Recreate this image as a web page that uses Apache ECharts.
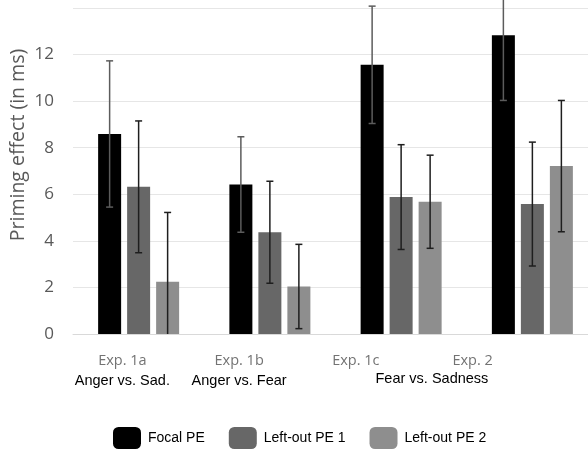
<!DOCTYPE html>
<html><head><meta charset="utf-8">
<script src="https://cdn.jsdelivr.net/npm/echarts@6/dist/echarts.min.js"></script>
<style>html,body{margin:0;padding:0;background:#fff}#c{width:588px;height:452px}</style>
</head><body><div id="c"></div>
<script>
const expLabels = ['Exp. 1a', 'Exp. 1b', 'Exp. 1c', 'Exp. 2'];
const contrastLabels = ['Anger vs. Sad.', 'Anger vs. Fear', '', ''];
const sharedContrast = 'Fear vs. Sadness';
const yTitle = 'Priming effect (in ms)';
const seriesNames = ['Focal PE', 'Left-out PE 1', 'Left-out PE 2'];
const focal = [8.59, 6.42, 11.56, 12.83];
const focalErr = [3.14, 2.05, 2.52, 2.80];
const left1 = [6.32, 4.37, 5.88, 5.58];
const left1Err = [2.83, 2.19, 2.25, 2.66];
const left2 = [2.24, 2.04, 5.68, 7.21];
const left2Err = [2.98, 1.81, 2.00, 2.82];

const BAR_W = 23, BAR_GAP = 6;
const colors = ['#000000', '#676767', '#8e8e8e'];
const errColors = ['#5c5c5c', '#1e1e1e', '#1e1e1e'];
const means = [focal, left1, left2];
const errs = [focalErr, left1Err, left2Err];

const chart = echarts.init(document.getElementById('c'));

function errSeries(si) {
  return {
    type: 'custom', xAxisIndex: 0, yAxisIndex: 0, clip: false, z: 10, silent: true,
    data: means[si].map((m, i) => [i, m - errs[si][i], m + errs[si][i]]),
    renderItem: function (params, api) {
      const x = api.coord([api.value(0), 0])[0] + (si - 1) * (BAR_W + BAR_GAP);
      const lo = api.value(1), hi = api.value(2);
      const yLo = api.coord([0, Math.max(lo, 0)])[1];
      const yHi = api.coord([0, hi])[1];
      const st = { stroke: errColors[si], lineWidth: 1.5 };
      const ch = [
        { type: 'line', shape: { x1: x, y1: yLo, x2: x, y2: yHi }, style: st },
        { type: 'line', shape: { x1: x - 3.5, y1: yHi, x2: x + 3.5, y2: yHi }, style: st }
      ];
      if (lo >= 0) ch.push({ type: 'line', shape: { x1: x - 3.5, y1: yLo, x2: x + 3.5, y2: yLo }, style: st });
      return { type: 'group', children: ch };
    }
  };
}

const option = {
  animation: false,
  backgroundColor: '#ffffff',
  grid: [
    { left: 73, width: 525, top: 8, bottom: 118, containLabel: false, outerBoundsMode: 'none' },
    { left: 64, width: 467, top: 8, bottom: 118, containLabel: false, outerBoundsMode: 'none' }
  ],
  xAxis: [
    { type: 'category', gridIndex: 0, data: expLabels,
      axisLine: { show: true, lineStyle: { color: '#d9d9d9', width: 1 } },
      axisTick: { show: false }, axisLabel: { show: false }, splitLine: { show: false } },
    { type: 'category', gridIndex: 1, data: expLabels.map((e, i) => e + '\n' + contrastLabels[i]),
      axisLine: { show: false }, axisTick: { show: false }, splitLine: { show: false },
      axisLabel: { margin: 17, interval: 0,
        formatter: function (v) {
          const p = v.split('\n');
          return '{a|' + p[0] + '}\n{b|' + (p[1] || ' ') + '}';
        },
        rich: {
          a: { fontFamily: 'Open Sans', fontSize: 14.5, color: '#737373', lineHeight: 20 },
          b: { fontFamily: 'Liberation Sans', fontSize: 14.5, color: '#000', lineHeight: 20 }
        } } }
  ],
  yAxis: [
    { type: 'value', gridIndex: 0, min: 0, max: 14, interval: 2,
      axisLine: { show: false }, axisTick: { show: false },
      axisLabel: { fontFamily: 'Open Sans', fontSize: 17, color: '#595959', margin: 19, showMaxLabel: false },
      splitLine: { lineStyle: { color: '#e6e6e6', width: 1 } } },
    { type: 'value', gridIndex: 1, show: false, min: 0, max: 14,
      axisLine: { show: false }, splitLine: { show: false }, axisLabel: { show: false } }
  ],
  legend: {
    data: seriesNames, left: 113, top: 427, padding: 0,
    itemWidth: 28, itemHeight: 22, itemGap: 24,
    textStyle: { fontFamily: 'Liberation Sans', fontSize: 14, color: '#000', padding: [0, 0, 0, 2] }
  },
  graphic: [
    { type: 'text', left: 432.5 - 57, top: 371,
      style: { text: sharedContrast, font: '14.5px "Liberation Sans"', fill: '#000' } },
    { type: 'text', x: 18, y: 145, rotation: Math.PI / 2,
      style: { text: yTitle, font: '19.5px "Open Sans"', fill: '#595959', align: 'center', verticalAlign: 'middle' } }
  ],
  series: [
    ...seriesNames.map((n, si) => ({
      name: n, type: 'bar', xAxisIndex: 0, yAxisIndex: 0,
      data: means[si], barWidth: BAR_W, barGap: (BAR_GAP / BAR_W * 100) + '%',
      itemStyle: { color: colors[si] }
    })),
    errSeries(0), errSeries(1), errSeries(2)
  ]
};
chart.setOption(option);
</script></body></html>
